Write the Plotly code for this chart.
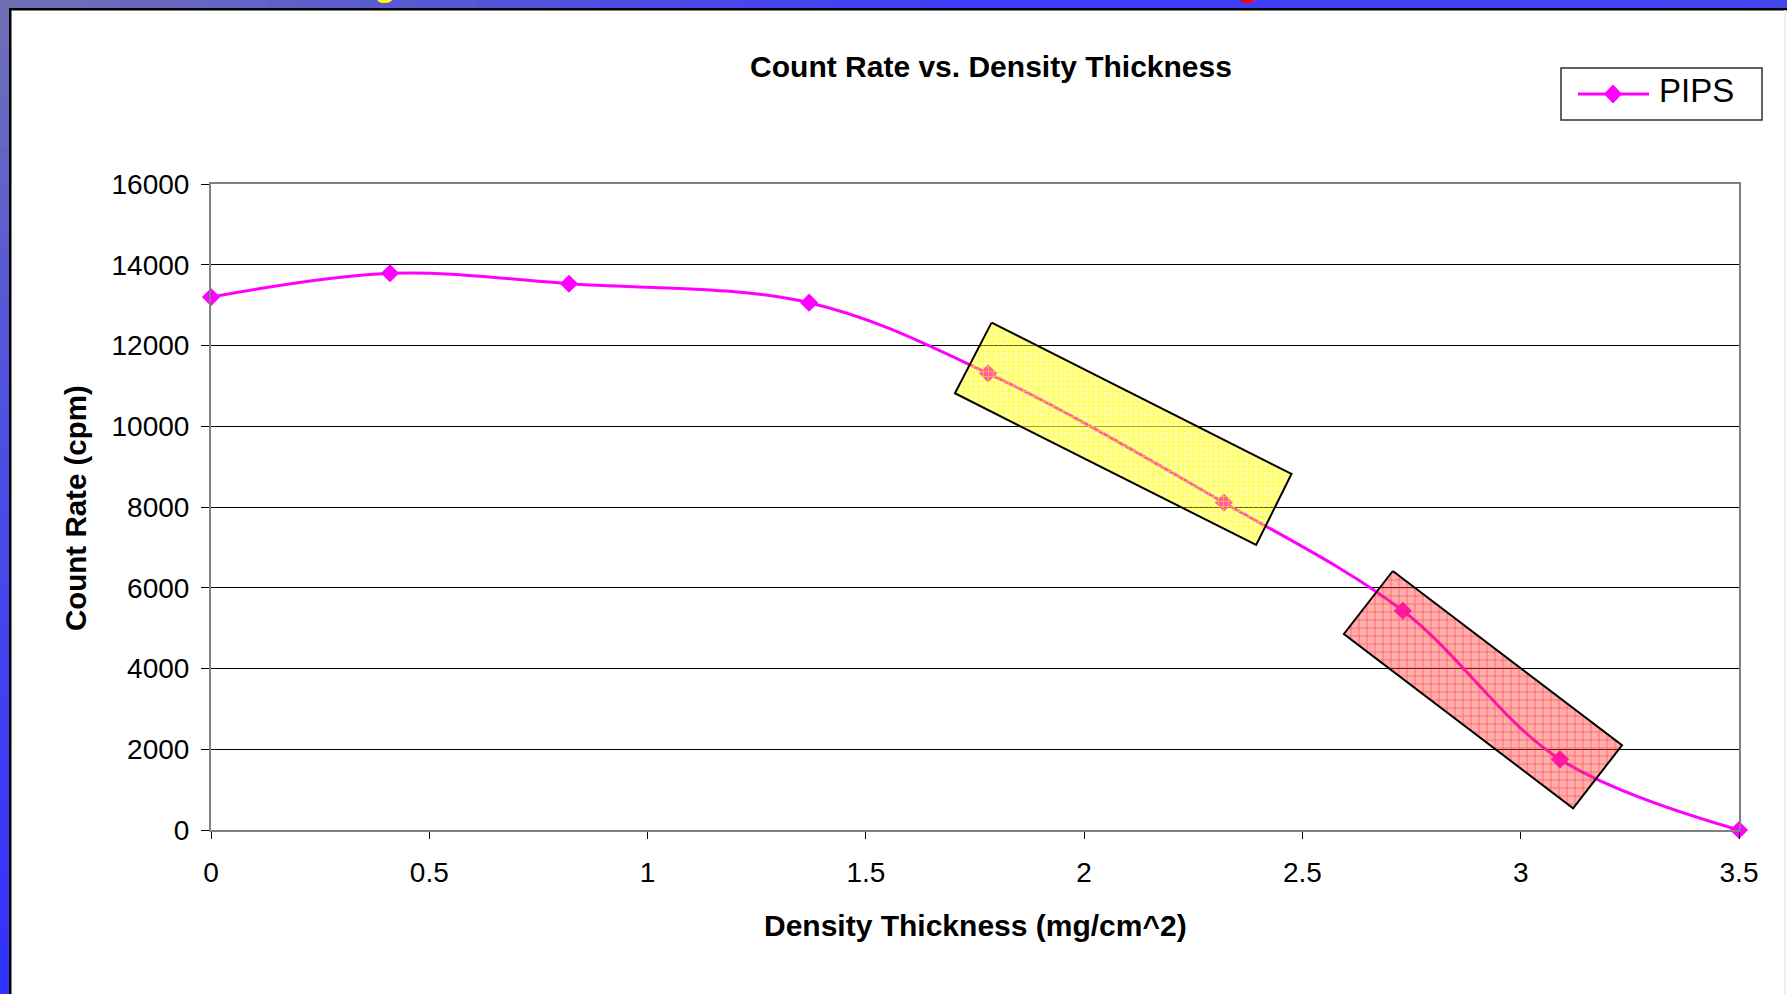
import plotly.graph_objects as go

# ---- data ----
thickness = [0, 0.41, 0.82, 1.37, 1.78, 2.32, 2.73, 3.09, 3.5]
count_rate = [13200, 13790, 13530, 13060, 11310, 8110, 5430, 1750, 0]
series_name = "PIPS"

# highlight boxes (corners in data units)
yellow_box_x = [1.788, 2.475, 2.394, 1.704, 1.788]
yellow_box_y = [12566, 8818, 7059, 10817, 12566]
red_box_x = [2.707, 3.232, 3.120, 2.595, 2.707]
red_box_y = [6415, 2098, 537, 4855, 6415]

x_ticks = [0, 0.5, 1, 1.5, 2, 2.5, 3, 3.5]
y_ticks = [0, 2000, 4000, 6000, 8000, 10000, 12000, 14000, 16000]

W, H = 1787, 994
L, R, T, B = 211, 48, 184, 164
PW, PH = W - L - R, H - T - B


def px(xp):
    return (xp - L) / PW


def py(yp):
    return (H - B - yp) / PH


FONT = "Liberation Sans, Arial, sans-serif"
MAG = "#ff00ff"

fig = go.Figure()
fig.add_trace(go.Scatter(
    x=thickness, y=count_rate, name=series_name, mode="lines+markers",
    line=dict(color=MAG, width=3, shape="spline", smoothing=1.0),
    marker=dict(symbol="diamond", size=14, color=MAG),
    showlegend=False, cliponaxis=False,
))
fig.add_trace(go.Scatter(
    x=yellow_box_x, y=yellow_box_y, mode="lines", fill="toself",
    fillcolor="rgba(255,255,0,0.38)",
    fillpattern=dict(shape="+", size=5, solidity=0.3, fgcolor="#ffff00",
                     fgopacity=0.55, fillmode="overlay"),
    line=dict(color="black", width=2), showlegend=False, hoverinfo="skip",
))
fig.add_trace(go.Scatter(
    x=red_box_x, y=red_box_y, mode="lines", fill="toself",
    fillcolor="rgba(255,60,60,0.42)",
    fillpattern=dict(shape="+", size=8, solidity=0.15, fgcolor="#ff0000",
                     fgopacity=0.55, fillmode="overlay"),
    line=dict(color="black", width=2), showlegend=False, hoverinfo="skip",
))

shapes = []


def lerp_stops(stops, v):
    for (p0, c0), (p1, c1) in zip(stops[:-1], stops[1:]):
        if p0 <= v <= p1:
            t = (v - p0) / (p1 - p0) if p1 > p0 else 0
            return tuple(int(round(a + (b - a) * t)) for a, b in zip(c0, c1))
    return stops[-1][1]


top_stops = [(0, (112, 112, 180)), (700, (72, 72, 232)), (1000, (60, 60, 250)), (1787, (70, 70, 240))]
left_stops = [(0, (112, 112, 180)), (400, (80, 80, 225)), (994, (48, 48, 255))]
N = 60
for i in range(N):
    a, b = i * W / N, (i + 1) * W / N
    c = lerp_stops(top_stops, (a + b) / 2)
    shapes.append(dict(type="rect", xref="paper", yref="paper", x0=px(a), x1=px(b + 1),
                       y0=py(0), y1=py(8), fillcolor="rgb(%d,%d,%d)" % c, line_width=0, layer="above"))
for i in range(N):
    a, b = i * H / N, (i + 1) * H / N
    c = lerp_stops(left_stops, (a + b) / 2)
    shapes.append(dict(type="rect", xref="paper", yref="paper", x0=px(0), x1=px(9),
                       y0=py(a), y1=py(b + 1), fillcolor="rgb(%d,%d,%d)" % c, line_width=0, layer="above"))
# black inner frame lines
shapes.append(dict(type="rect", xref="paper", yref="paper", x0=px(9), x1=px(W), y0=py(8), y1=py(10.5),
                   fillcolor="black", line_width=0, layer="above"))
shapes.append(dict(type="rect", xref="paper", yref="paper", x0=px(9), x1=px(11.5), y0=py(8), y1=py(H),
                   fillcolor="black", line_width=0, layer="above"))
shapes.append(dict(type="line", xref="paper", yref="paper", x0=px(1785), x1=px(1785), y0=py(10), y1=py(H),
                   line=dict(color="#e8e8e8", width=1.5), layer="above"))

# custom legend box (line sample + diamond + label)
shapes.append(dict(type="rect", xref="paper", yref="paper", x0=px(1561), x1=px(1762), y0=py(68), y1=py(120),
                   line=dict(color="#303030", width=1.5), fillcolor="white", layer="above"))
shapes.append(dict(type="line", xref="paper", yref="paper", x0=px(1578), x1=px(1649), y0=py(94), y1=py(94),
                   line=dict(color=MAG, width=3), layer="above"))
dx, dy = 8.5 / PW, 9.0 / PH
cx, cy = px(1613), py(94)
shapes.append(dict(type="path", xref="paper", yref="paper",
                   path="M %f %f L %f %f L %f %f L %f %f Z" % (cx, cy + dy, cx + dx, cy, cx, cy - dy, cx - dx, cy),
                   fillcolor=MAG, line=dict(color=MAG, width=1), layer="above"))

annotations = [
    dict(text="<b>Density Thickness (mg/cm^2)</b>", xref="paper", yref="paper", x=px(975.5), y=py(925),
         showarrow=False, font=dict(family=FONT, size=30, color="black"), xanchor="center", yanchor="middle"),
    dict(text="<b>Count Rate (cpm)</b>", xref="paper", yref="paper", x=px(75), y=py(508),
         showarrow=False, textangle=-90, font=dict(family=FONT, size=29.5, color="black"),
         xanchor="center", yanchor="middle"),
    dict(text=series_name, xref="paper", yref="paper", x=px(1657), y=py(91), showarrow=False,
         font=dict(family=FONT, size=33, color="black"), xanchor="left", yanchor="middle"),
    dict(text="<b>g</b>", xref="paper", yref="paper", x=px(385), y=py(5), showarrow=False,
         font=dict(family=FONT, size=36, color="#ffff00"), xanchor="center", yanchor="bottom"),
    dict(text="<b>g</b>", xref="paper", yref="paper", x=px(1248), y=py(5), showarrow=False,
         font=dict(family=FONT, size=36, color="#ff0000"), xanchor="center", yanchor="bottom"),
]

fig.update_layout(
    width=W, height=H,
    margin=dict(l=L, r=R, t=T, b=B, pad=0),
    paper_bgcolor="white", plot_bgcolor="white",
    font=dict(family=FONT, color="black"),
    title=dict(text="<b>Count Rate vs. Density Thickness</b>", x=991 / W, y=1 - 66 / H,
               xref="container", yref="container", xanchor="center", yanchor="middle",
               font=dict(family=FONT, size=30, color="black")),
    showlegend=False,
    shapes=shapes,
    annotations=annotations,
)
fig.update_xaxes(
    range=[0, 3.5], tickvals=x_ticks, ticktext=[("%g" % v) for v in x_ticks],
    ticks="outside", ticklen=7, tickcolor="black", tickwidth=1,
    showline=True, linecolor="#808080", linewidth=2, mirror=True,
    showgrid=False, zeroline=False,
    tickfont=dict(family=FONT, size=28, color="black"), ticklabelstandoff=9,
)
fig.update_yaxes(
    range=[0, 16000], tickvals=y_ticks, ticktext=[str(v) for v in y_ticks],
    ticks="outside", ticklen=8, tickcolor="black", tickwidth=1,
    showline=True, linecolor="#808080", linewidth=2, mirror=True,
    showgrid=True, gridcolor="black", gridwidth=1, zeroline=False,
    tickfont=dict(family=FONT, size=28, color="black"), ticklabelstandoff=6,
)

fig.write_html("out.html")
